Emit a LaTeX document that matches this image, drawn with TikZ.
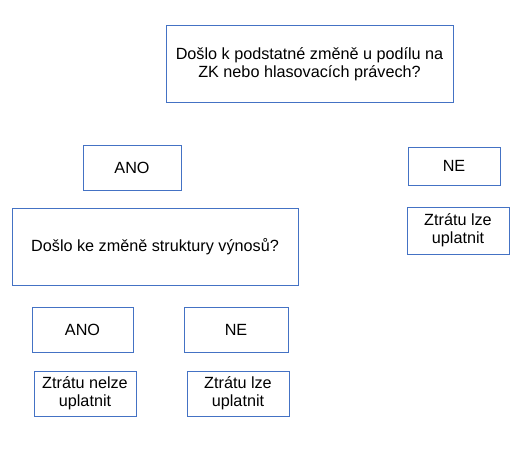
\documentclass[tikz,border=0pt]{standalone}
\usepackage{fontspec}
\setmainfont{Liberation Sans}
\definecolor{boxblue}{HTML}{4472C4}
\tikzset{
    answer/.style={draw=boxblue, line width=0.9pt, align=center, inner sep=0pt,
        font=\fontsize{16.2}{17.6}\selectfont},
}
\begin{document}
\begin{tikzpicture}[x=1pt, y=-1pt]
        \useasboundingbox (0,0) rectangle (521,456);
        \node[answer, minimum width=287pt, minimum height=77pt] (otazka1) at (309.5,64) {Došlo k podstatné změně u podílu na\\ZK nebo hlasovacích právech?};
        \node[answer, minimum width=98pt, minimum height=45pt] (ano1) at (132,167.5) {ANO};
        \node[answer, minimum width=92pt, minimum height=38pt] (ne1) at (454,166) {NE};
        \node[answer, minimum width=102pt, minimum height=47pt] (lze1) at (458,230.5) {Ztrátu lze\\uplatnit};
        \node[answer, minimum width=286pt, minimum height=77pt] (otazka2) at (155,246.5) {Došlo ke změně struktury výnosů?};
        \node[answer, minimum width=101pt, minimum height=45pt] (ano2) at (82.5,329.5) {ANO};
        \node[answer, minimum width=104pt, minimum height=45pt] (ne2) at (236,329.5) {NE};
        \node[answer, minimum width=102pt, minimum height=45pt] (nelze2) at (85,393.5) {Ztrátu nelze\\uplatnit};
        \node[answer, minimum width=102pt, minimum height=45pt] (lze2) at (238,393.5) {Ztrátu lze\\uplatnit};
        \end{tikzpicture}
\end{document}
